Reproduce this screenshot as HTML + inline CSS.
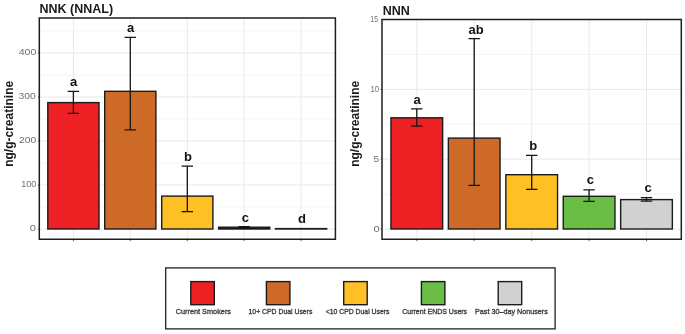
<!DOCTYPE html>
<html><head><meta charset="utf-8"><title>Chart</title>
<style>html,body{margin:0;padding:0;background:#fff;}body{width:685px;height:334px;overflow:hidden;font-family:"Liberation Sans",sans-serif;}svg{display:block;will-change:transform;}text{font-family:"Liberation Sans",sans-serif;}</style>
</head><body>
<svg width="685" height="334" viewBox="0 0 685 334">
<rect x="0" y="0" width="685" height="334" fill="#ffffff"/>
<line x1="39.3" x2="335.4" y1="207.00" y2="207.00" stroke="#f2f2f2" stroke-width="0.75"/>
<line x1="39.3" x2="335.4" y1="163.00" y2="163.00" stroke="#f2f2f2" stroke-width="0.75"/>
<line x1="39.3" x2="335.4" y1="119.00" y2="119.00" stroke="#f2f2f2" stroke-width="0.75"/>
<line x1="39.3" x2="335.4" y1="75.00" y2="75.00" stroke="#f2f2f2" stroke-width="0.75"/>
<line x1="39.3" x2="335.4" y1="31.00" y2="31.00" stroke="#f2f2f2" stroke-width="0.75"/>
<line x1="39.3" x2="335.4" y1="229.00" y2="229.00" stroke="#e9e9e9" stroke-width="1"/>
<line x1="39.3" x2="335.4" y1="185.00" y2="185.00" stroke="#e9e9e9" stroke-width="1"/>
<line x1="39.3" x2="335.4" y1="141.00" y2="141.00" stroke="#e9e9e9" stroke-width="1"/>
<line x1="39.3" x2="335.4" y1="97.00" y2="97.00" stroke="#e9e9e9" stroke-width="1"/>
<line x1="39.3" x2="335.4" y1="53.00" y2="53.00" stroke="#e9e9e9" stroke-width="1"/>
<line x1="73.40" x2="73.40" y1="18.0" y2="239.25" stroke="#e9e9e9" stroke-width="1"/>
<line x1="130.30" x2="130.30" y1="18.0" y2="239.25" stroke="#e9e9e9" stroke-width="1"/>
<line x1="187.30" x2="187.30" y1="18.0" y2="239.25" stroke="#e9e9e9" stroke-width="1"/>
<line x1="244.20" x2="244.20" y1="18.0" y2="239.25" stroke="#e9e9e9" stroke-width="1"/>
<line x1="301.10" x2="301.10" y1="18.0" y2="239.25" stroke="#e9e9e9" stroke-width="1"/>
<rect x="47.80" y="102.60" width="51.20" height="126.40" fill="#ED2024" stroke="#1c1c1c" stroke-width="1.4"/>
<rect x="104.70" y="91.30" width="51.20" height="137.70" fill="#CE6A28" stroke="#1c1c1c" stroke-width="1.4"/>
<rect x="161.70" y="196.10" width="51.20" height="32.90" fill="#FEC025" stroke="#1c1c1c" stroke-width="1.4"/>
<rect x="218.60" y="227.20" width="51.20" height="1.80" fill="#111" stroke="#1c1c1c" stroke-width="1.4"/>
<rect x="275.50" y="228.60" width="51.20" height="0.40" fill="#111" stroke="#1c1c1c" stroke-width="1.4"/>
<path d="M67.70 91.40H79.10M67.70 113.40H79.10M73.40 91.40V113.40" stroke="#141414" stroke-width="1.3" fill="none"/>
<path d="M124.60 37.40H136.00M124.60 129.90H136.00M130.30 37.40V129.90" stroke="#141414" stroke-width="1.3" fill="none"/>
<path d="M181.60 166.20H193.00M181.60 211.60H193.00M187.30 166.20V211.60" stroke="#141414" stroke-width="1.3" fill="none"/>
<path d="M238.50 226.60H249.90M238.50 228.40H249.90M244.20 226.60V228.40" stroke="#141414" stroke-width="1.3" fill="none"/>
<text x="73.60" y="85.60" font-size="13" font-weight="bold" text-anchor="middle" fill="#111">a</text>
<text x="130.60" y="32.10" font-size="13" font-weight="bold" text-anchor="middle" fill="#111">a</text>
<text x="188.00" y="160.80" font-size="13" font-weight="bold" text-anchor="middle" fill="#111">b</text>
<text x="245.30" y="221.60" font-size="13" font-weight="bold" text-anchor="middle" fill="#111">c</text>
<text x="302.00" y="223.10" font-size="13" font-weight="bold" text-anchor="middle" fill="#111">d</text>
<line x1="37.95" x2="39.3" y1="229.00" y2="229.00" stroke="#333" stroke-width="0.8"/>
<line x1="37.95" x2="39.3" y1="185.00" y2="185.00" stroke="#333" stroke-width="0.8"/>
<line x1="37.95" x2="39.3" y1="141.00" y2="141.00" stroke="#333" stroke-width="0.8"/>
<line x1="37.95" x2="39.3" y1="97.00" y2="97.00" stroke="#333" stroke-width="0.8"/>
<line x1="37.95" x2="39.3" y1="53.00" y2="53.00" stroke="#333" stroke-width="0.8"/>
<line x1="73.40" x2="73.40" y1="239.25" y2="241.15" stroke="#444" stroke-width="0.8"/>
<line x1="130.30" x2="130.30" y1="239.25" y2="241.15" stroke="#444" stroke-width="0.8"/>
<line x1="187.30" x2="187.30" y1="239.25" y2="241.15" stroke="#444" stroke-width="0.8"/>
<line x1="244.20" x2="244.20" y1="239.25" y2="241.15" stroke="#444" stroke-width="0.8"/>
<line x1="301.10" x2="301.10" y1="239.25" y2="241.15" stroke="#444" stroke-width="0.8"/>
<rect x="39.3" y="18.0" width="296.10" height="221.25" fill="none" stroke="#1e1e1e" stroke-width="1.5"/>
<text x="35.90" y="231.30" font-size="9.7" text-anchor="end" fill="#707070" textLength="6.2" lengthAdjust="spacingAndGlyphs">0</text>
<text x="36.40" y="187.30" font-size="9.7" text-anchor="end" fill="#707070" textLength="15.2" lengthAdjust="spacingAndGlyphs">100</text>
<text x="36.20" y="143.30" font-size="9.7" text-anchor="end" fill="#707070" textLength="17.3" lengthAdjust="spacingAndGlyphs">200</text>
<text x="35.90" y="99.20" font-size="9.7" text-anchor="end" fill="#707070" textLength="17.3" lengthAdjust="spacingAndGlyphs">300</text>
<text x="36.40" y="55.20" font-size="9.7" text-anchor="end" fill="#707070" textLength="17.7" lengthAdjust="spacingAndGlyphs">400</text>
<text x="39.5" y="13.4" font-size="12.5" font-weight="bold" fill="#1a1a1a">NNK (NNAL)</text>
<line x1="382.0" x2="681.3" y1="194.10" y2="194.10" stroke="#f2f2f2" stroke-width="0.75"/>
<line x1="382.0" x2="681.3" y1="124.30" y2="124.30" stroke="#f2f2f2" stroke-width="0.75"/>
<line x1="382.0" x2="681.3" y1="54.50" y2="54.50" stroke="#f2f2f2" stroke-width="0.75"/>
<line x1="382.0" x2="681.3" y1="229.00" y2="229.00" stroke="#e9e9e9" stroke-width="1"/>
<line x1="382.0" x2="681.3" y1="159.20" y2="159.20" stroke="#e9e9e9" stroke-width="1"/>
<line x1="382.0" x2="681.3" y1="89.40" y2="89.40" stroke="#e9e9e9" stroke-width="1"/>
<line x1="416.80" x2="416.80" y1="19.5" y2="239.25" stroke="#e9e9e9" stroke-width="1"/>
<line x1="474.20" x2="474.20" y1="19.5" y2="239.25" stroke="#e9e9e9" stroke-width="1"/>
<line x1="531.70" x2="531.70" y1="19.5" y2="239.25" stroke="#e9e9e9" stroke-width="1"/>
<line x1="589.10" x2="589.10" y1="19.5" y2="239.25" stroke="#e9e9e9" stroke-width="1"/>
<line x1="646.50" x2="646.50" y1="19.5" y2="239.25" stroke="#e9e9e9" stroke-width="1"/>
<rect x="390.95" y="117.80" width="51.70" height="111.20" fill="#ED2024" stroke="#1c1c1c" stroke-width="1.4"/>
<rect x="448.35" y="138.10" width="51.70" height="90.90" fill="#CE6A28" stroke="#1c1c1c" stroke-width="1.4"/>
<rect x="505.85" y="174.70" width="51.70" height="54.30" fill="#FEC025" stroke="#1c1c1c" stroke-width="1.4"/>
<rect x="563.25" y="196.30" width="51.70" height="32.70" fill="#6ABD45" stroke="#1c1c1c" stroke-width="1.4"/>
<rect x="620.65" y="199.60" width="51.70" height="29.40" fill="#D1D1D1" stroke="#1c1c1c" stroke-width="1.4"/>
<path d="M411.10 108.80H422.50M411.10 126.20H422.50M416.80 108.80V126.20" stroke="#141414" stroke-width="1.3" fill="none"/>
<path d="M468.50 38.70H479.90M468.50 185.30H479.90M474.20 38.70V185.30" stroke="#141414" stroke-width="1.3" fill="none"/>
<path d="M526.00 155.40H537.40M526.00 189.30H537.40M531.70 155.40V189.30" stroke="#141414" stroke-width="1.3" fill="none"/>
<path d="M583.40 189.90H594.80M583.40 201.40H594.80M589.10 189.90V201.40" stroke="#141414" stroke-width="1.3" fill="none"/>
<path d="M640.80 197.70H652.20M640.80 201.20H652.20M646.50 197.70V201.20" stroke="#141414" stroke-width="1.3" fill="none"/>
<text x="417.00" y="103.50" font-size="13" font-weight="bold" text-anchor="middle" fill="#111">a</text>
<text x="476.10" y="34.00" font-size="13" font-weight="bold" text-anchor="middle" fill="#111">ab</text>
<text x="533.20" y="150.30" font-size="13" font-weight="bold" text-anchor="middle" fill="#111">b</text>
<text x="590.30" y="184.30" font-size="13" font-weight="bold" text-anchor="middle" fill="#111">c</text>
<text x="648.00" y="192.00" font-size="13" font-weight="bold" text-anchor="middle" fill="#111">c</text>
<line x1="380.65" x2="382.0" y1="229.00" y2="229.00" stroke="#333" stroke-width="0.8"/>
<line x1="380.65" x2="382.0" y1="159.20" y2="159.20" stroke="#333" stroke-width="0.8"/>
<line x1="380.65" x2="382.0" y1="89.40" y2="89.40" stroke="#333" stroke-width="0.8"/>
<line x1="416.80" x2="416.80" y1="239.25" y2="241.15" stroke="#444" stroke-width="0.8"/>
<line x1="474.20" x2="474.20" y1="239.25" y2="241.15" stroke="#444" stroke-width="0.8"/>
<line x1="531.70" x2="531.70" y1="239.25" y2="241.15" stroke="#444" stroke-width="0.8"/>
<line x1="589.10" x2="589.10" y1="239.25" y2="241.15" stroke="#444" stroke-width="0.8"/>
<line x1="646.50" x2="646.50" y1="239.25" y2="241.15" stroke="#444" stroke-width="0.8"/>
<rect x="382.0" y="19.5" width="299.30" height="219.75" fill="none" stroke="#1e1e1e" stroke-width="1.5"/>
<text x="379.80" y="231.60" font-size="9.7" text-anchor="end" fill="#707070" textLength="6.2" lengthAdjust="spacingAndGlyphs">0</text>
<text x="379.00" y="161.80" font-size="9.7" text-anchor="end" fill="#707070" textLength="5.6" lengthAdjust="spacingAndGlyphs">5</text>
<text x="379.00" y="92.00" font-size="9.7" text-anchor="end" fill="#707070" textLength="8.6" lengthAdjust="spacingAndGlyphs">10</text>
<text x="378.00" y="21.90" font-size="9.7" text-anchor="end" fill="#707070" textLength="7.7" lengthAdjust="spacingAndGlyphs">15</text>
<text x="382.8" y="15.3" font-size="12.5" font-weight="bold" fill="#1a1a1a">NNN</text>
<text transform="translate(12.7,123.8) rotate(-90)" font-size="12" font-weight="bold" text-anchor="middle" fill="#1a1a1a" textLength="86" lengthAdjust="spacingAndGlyphs">ng/g-creatinine</text>
<text transform="translate(359.2,123.8) rotate(-90)" font-size="12" font-weight="bold" text-anchor="middle" fill="#1a1a1a" textLength="86" lengthAdjust="spacingAndGlyphs">ng/g-creatinine</text>
<rect x="165.7" y="267.9" width="389.4" height="61.0" fill="#fff" stroke="#202020" stroke-width="1.3"/>
<rect x="190.80" y="281.6" width="23.5" height="23.1" fill="#ED2024" stroke="#1c1c1c" stroke-width="1.4"/>
<text x="175.70" y="313.9" font-size="7.6" fill="#404040" stroke="#404040" stroke-width="0.35" textLength="55.3" lengthAdjust="spacingAndGlyphs">Current Smokers</text>
<rect x="266.40" y="281.6" width="23.5" height="23.1" fill="#CE6A28" stroke="#1c1c1c" stroke-width="1.4"/>
<text x="248.50" y="313.9" font-size="7.6" fill="#404040" stroke="#404040" stroke-width="0.35" textLength="63.9" lengthAdjust="spacingAndGlyphs">10+ CPD Dual Users</text>
<rect x="343.70" y="281.6" width="23.5" height="23.1" fill="#FEC025" stroke="#1c1c1c" stroke-width="1.4"/>
<text x="325.80" y="313.9" font-size="7.6" fill="#404040" stroke="#404040" stroke-width="0.35" textLength="63.6" lengthAdjust="spacingAndGlyphs">&lt;10 CPD Dual Users</text>
<rect x="421.40" y="281.6" width="23.5" height="23.1" fill="#6ABD45" stroke="#1c1c1c" stroke-width="1.4"/>
<text x="402.30" y="313.9" font-size="7.6" fill="#404040" stroke="#404040" stroke-width="0.35" textLength="64.8" lengthAdjust="spacingAndGlyphs">Current ENDS Users</text>
<rect x="498.20" y="281.6" width="23.5" height="23.1" fill="#D1D1D1" stroke="#1c1c1c" stroke-width="1.4"/>
<text x="475.00" y="313.9" font-size="7.6" fill="#404040" stroke="#404040" stroke-width="0.35" textLength="72.8" lengthAdjust="spacingAndGlyphs">Past 30&#8211;day Nonusers</text>
</svg></body></html>
